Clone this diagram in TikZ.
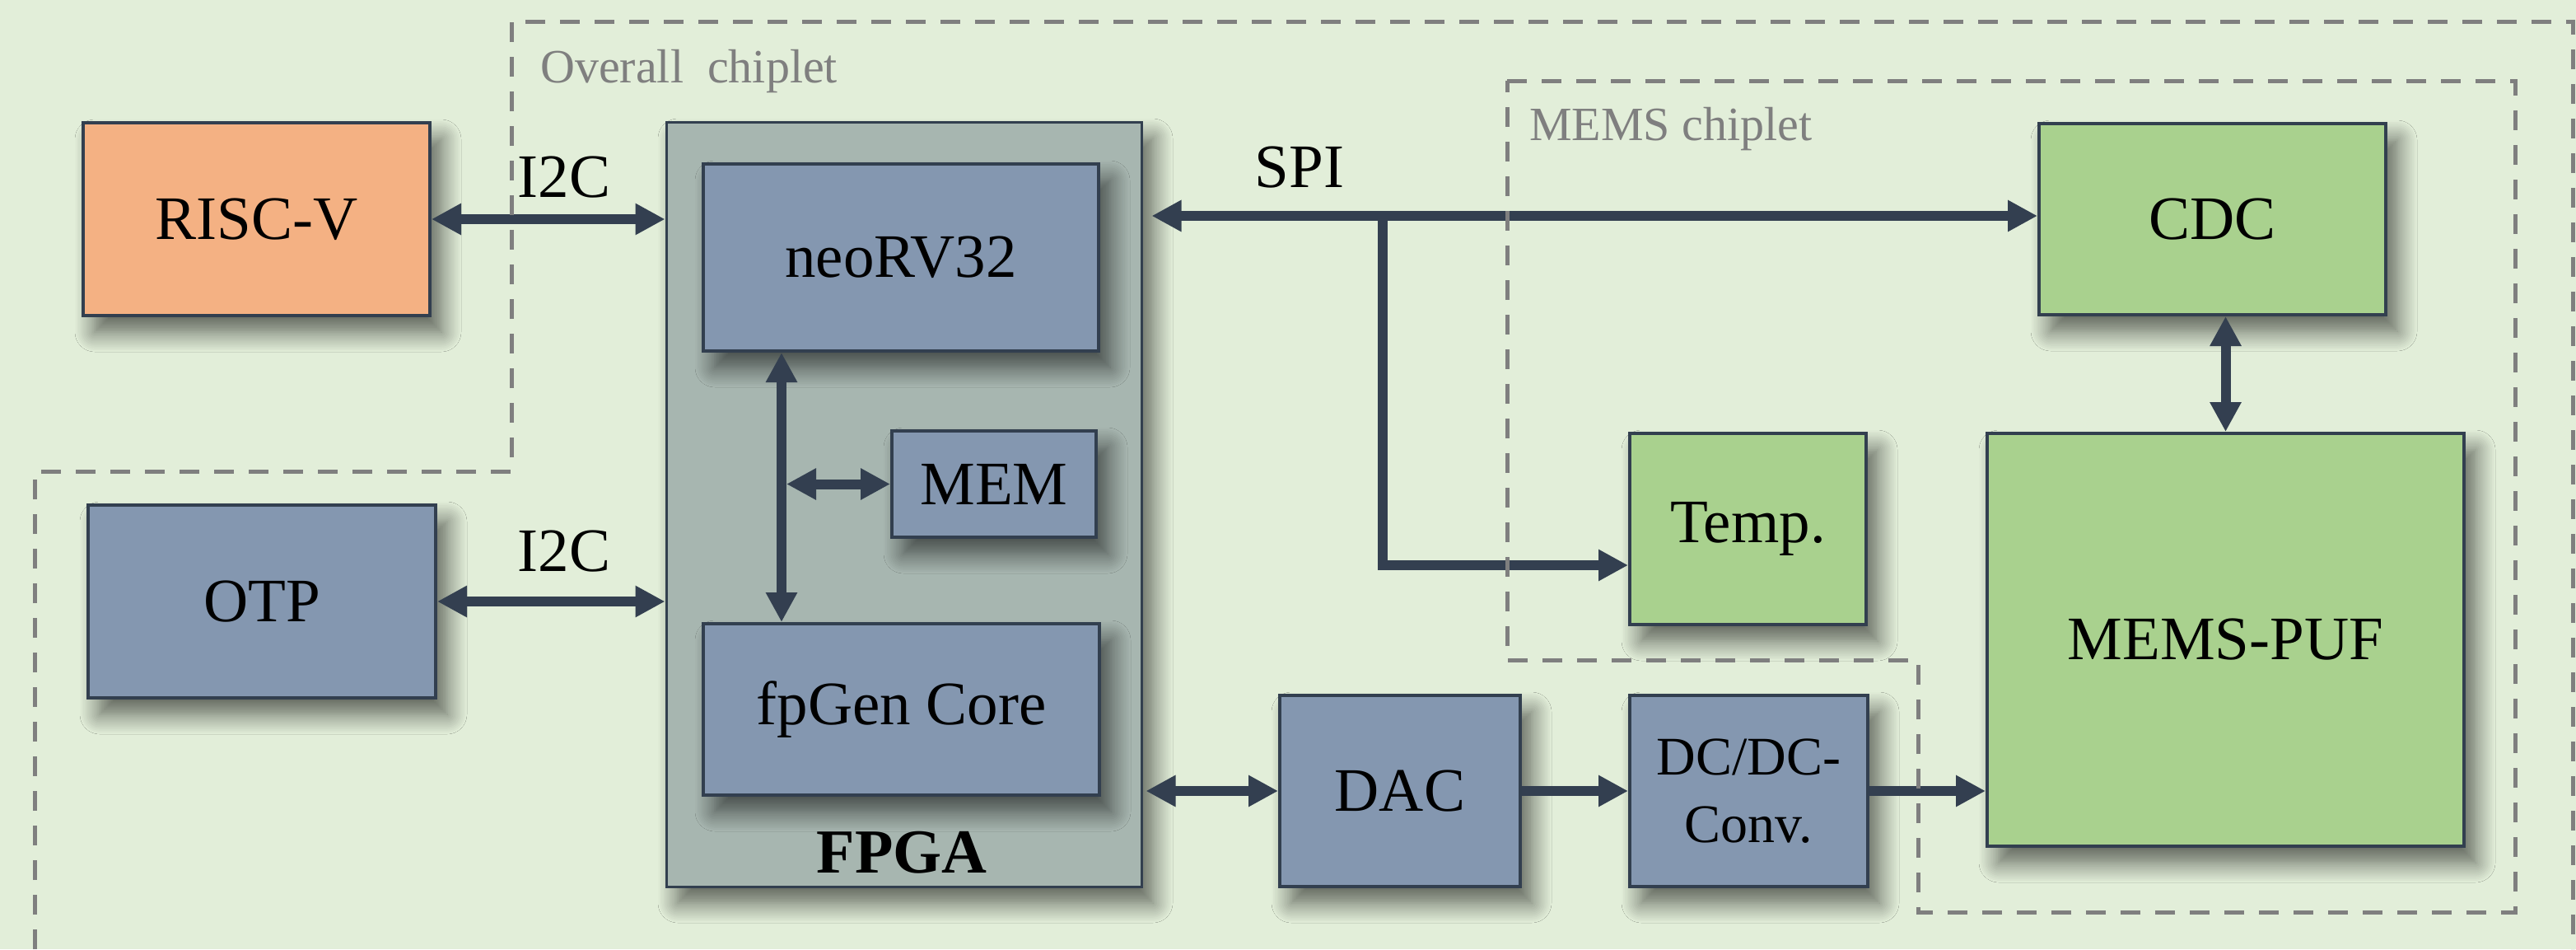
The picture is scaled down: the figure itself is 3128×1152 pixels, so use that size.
\documentclass[tikz,border=0pt]{standalone}
\usepackage{fontspec}
\setmainfont{Liberation Serif}
\usetikzlibrary{arrows.meta,shadows.blur,calc}

\definecolor{bgGreen}{HTML}{E2EED9}
\definecolor{edgeCol}{HTML}{323F4F}
\definecolor{blueFill}{HTML}{8497B0}
\definecolor{greenFill}{HTML}{A9D18E}
\definecolor{orangeFill}{HTML}{F4B183}
\definecolor{fpgaFill}{HTML}{A7B6B0}
\definecolor{dashGray}{HTML}{7F7F7F}
\definecolor{arrowCol}{HTML}{333F50}

\tikzset{
  softshadow/.style={blur shadow={shadow xshift=14pt, shadow yshift=-20pt,
      shadow blur radius=24pt, shadow opacity=60, shadow blur steps=12}},
  block/.style={draw=edgeCol, line width=4pt, inner sep=0pt, align=center,
      softshadow},
  linkOne/.style={draw=arrowCol, line width=12pt, -{Triangle[length=36pt, width=36pt]}},
  linkTwo/.style={draw=arrowCol, line width=12pt,
      {Triangle[length=36pt, width=36pt]}-{Triangle[length=36pt, width=36pt]}},
  chiplet/.style={draw=dashGray, line width=5pt, dash pattern=on 24pt off 18pt},
  chipletlabel/.style={text=dashGray, anchor=base west, inner sep=0pt,
      font=\fontsize{58}{70}\selectfont},
  buslabel/.style={anchor=base, inner sep=0pt},
}

\begin{document}
\begin{tikzpicture}[x=1pt, y=-1pt, font=\fontsize{75}{90}\selectfont]
  % page background
  \fill[bgGreen] (0,0) rectangle (3128,1152);
  \useasboundingbox (0,0) rectangle (3128,1152);

  % external blocks
  \node[block, fill=orangeFill, minimum width=421pt, minimum height=234pt] (risc) at (311.5,266) {RISC-V};
  \node[block, fill=blueFill, minimum width=422pt, minimum height=234pt] (otp) at (318,730) {OTP};

  % FPGA with its inner blocks
  \node[block, fill=fpgaFill, line width=3pt, minimum width=577pt, minimum height=928pt] (fpga) at (1097.5,612) {};
  \node[block, fill=blueFill, minimum width=480pt, minimum height=227pt] (neo) at (1094,312.5) {neoRV32};
  \node[block, fill=blueFill, minimum width=248pt, minimum height=129pt] (mem) at (1207,587.5) {MEM};
  \node[block, fill=blueFill, minimum width=481pt, minimum height=208pt] (fpgen) at (1094.5,861) {fpGen Core};
  \node[buslabel, font=\bfseries\fontsize{76}{90}\selectfont] (fpgalbl) at (1095,1059) {FPGA};

  % analog path
  \node[block, fill=blueFill, minimum width=292pt, minimum height=232pt] (dac) at (1700,960) {DAC};
  \node[block, fill=blueFill, minimum width=289pt, minimum height=232pt,
        font=\fontsize{66}{82}\selectfont] (dcdc) at (2123.5,960) {DC/DC-\\Conv.};

  % MEMS chiplet blocks
  \node[block, fill=greenFill, minimum width=287pt, minimum height=232pt] (temp) at (2122.5,642) {Temp.};
  \node[block, fill=greenFill, minimum width=421pt, minimum height=232pt] (cdc) at (2686.5,266) {CDC};
  \node[block, fill=greenFill, minimum width=579pt, minimum height=501pt] (puf) at (2702.5,776.5) {MEMS-PUF};

  % bus labels
  \node[buslabel] (i2ca) at (685,239) {I2C};
  \node[buslabel] (i2cb) at (685,693) {I2C};
  \node[buslabel] (spi) at (1578,227) {SPI};

  % connectors
  \coordinate (spiT) at (1679,262);
  \coordinate (busX) at (949,0);
  \draw[linkTwo] (risc.east) -- (risc.east -| fpga.west);
  \draw[linkTwo] (otp.east) -- (otp.east -| fpga.west);
  \draw[linkTwo, shorten >=11pt] (cdc.west |- spiT) -- (fpga.east |- spiT);
  \draw[linkOne] (spiT) |- ([yshift=-44pt]temp.west);
  \draw[linkTwo] (neo.south -| busX) -- (fpgen.north -| busX);
  \draw[linkTwo, shorten <=6pt] (busX |- mem.west) -- (mem.west);
  \draw[linkTwo, shorten <=4pt] (fpga.east |- dac.west) -- (dac.west);
  \draw[linkOne] (dac.east) -- (dcdc.west);
  \draw[linkOne] (dcdc.east) -- (puf.west |- dcdc.east);
  \draw[linkTwo] (cdc.south -| puf.north) -- (puf.north);

  % chiplet outlines
  \draw[chiplet] (42,1152) -- (42,572) -- (621,572) -- (621,26) -- (3124,26) -- (3124,1152);
  \draw[chiplet] (1830,98) -- (3054,98) -- (3054,1107) -- (2329,1107) -- (2329,801) -- (1830,801) -- cycle;
  \node[chipletlabel] (overall) at (656,100) {Overall\ \ chiplet};
  \node[chipletlabel] (mems) at (1857,170) {MEMS chiplet};
\end{tikzpicture}
\end{document}
